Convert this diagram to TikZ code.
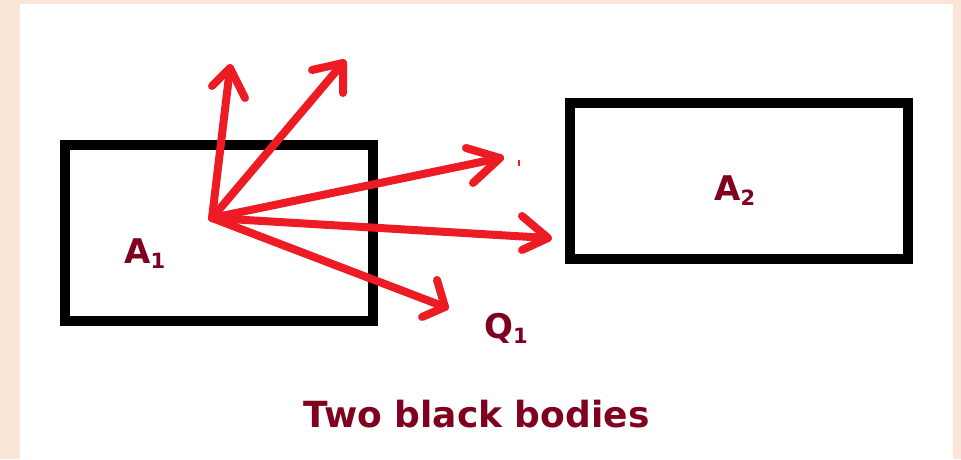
\documentclass[tikz,border=0pt]{standalone}
\usepackage{fontspec}
\setmainfont{DejaVu Sans}
\definecolor{peach}{RGB}{251,229,214}
\definecolor{paintred}{RGB}{237,28,36}
\definecolor{labelred}{RGB}{128,0,32}
\begin{document}
\begin{tikzpicture}[x=1pt,y=-1pt,
  body/.style={draw=black,line width=10pt,rectangle,inner sep=0pt},
  ray/.style={draw=paintred,line width=8pt,line cap=round,line join=round},
  lbl/.style={text=labelred,font=\bfseries\fontsize{34}{36}\selectfont,inner sep=0pt,anchor=base west}]
\useasboundingbox (0,0) rectangle (961,459);
\fill[peach] (0,0) rectangle (961,459);
\fill[white] (20,4) rectangle (953,459);
% bodies
\node[body,minimum width=308pt,minimum height=176pt] (b1) at (219,233) {};
\node[body,minimum width=338pt,minimum height=156pt] (b2) at (739,181) {};
% rays
\coordinate (o) at (212,218);
\coordinate (t1) at (230,68);  \coordinate (t1a) at (212,86);  \coordinate (t1b) at (245,98);
\coordinate (t2) at (343,63);  \coordinate (t2a) at (312,70);  \coordinate (t2b) at (343,93);
\coordinate (t3) at (500,158); \coordinate (t3a) at (466,148); \coordinate (t3b) at (473,183);
\coordinate (t4) at (548,238); \coordinate (t4a) at (522,216); \coordinate (t4b) at (522,250);
\coordinate (t5) at (445,307); \coordinate (t5a) at (437,280); \coordinate (t5b) at (422,317);
\foreach \i in {1,...,5}{
  \draw[ray] (o) -- (t\i);
  \draw[ray] (t\i a) -- (t\i) -- (t\i b);
}
\coordinate (s1) at (519,160); \coordinate (s2) at (519,166);
\draw[paintred,line width=1.5pt] (s1) -- (s2);
% labels
\node[lbl] (la1) at (124,263) {A\raisebox{-5pt}{\fontsize{21}{21}\selectfont 1}};
\node[lbl] (la2) at (714,200) {A\raisebox{-5pt}{\fontsize{21}{21}\selectfont 2}};
\node[lbl] (lq1) at (484,338) {Q\raisebox{-5pt}{\fontsize{21}{21}\selectfont 1}};
\node[lbl,font=\bfseries\fontsize{36}{38}\selectfont,anchor=base] (title) at (476.5,427) {Two black bodies};
\end{tikzpicture}
\end{document}
